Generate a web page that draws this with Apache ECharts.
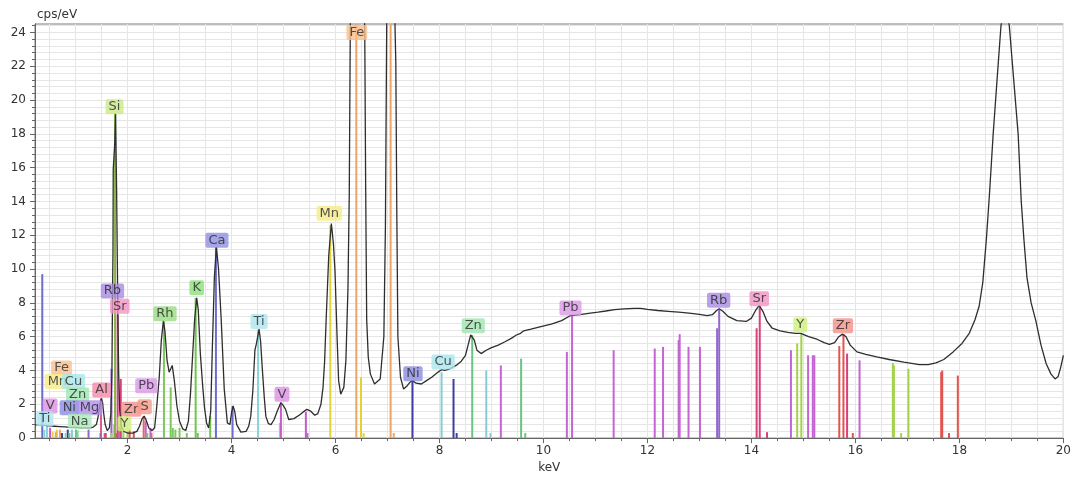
<!DOCTYPE html>
<html>
<head>
<meta charset="utf-8">
<script src="https://cdn.jsdelivr.net/npm/echarts@6/dist/echarts.min.js"></script>
<style>
html, body { margin: 0; padding: 0; background: #fff; }
#chart { width: 1074px; height: 479px; }
</style>
</head>
<body>
<div id="chart"></div>
<script>
// measured spectrum, [keV, cps/eV] (Fe peaks run off the top of the plot)
var spectrum = [
    [0.22,0.80],[0.30,0.77],[0.40,0.75],[0.50,0.72],[0.60,0.70],[0.70,0.68],[0.80,0.66],[0.90,0.64],
    [1.00,0.63],[1.10,0.61],[1.20,0.60],[1.28,0.60],[1.34,0.65],[1.40,0.80],[1.43,1.2],[1.46,1.8],
    [1.48,2.2],[1.50,2.35],[1.52,2.1],[1.54,1.5],[1.57,0.8],[1.61,0.45],[1.65,0.6],[1.68,1.5],
    [1.70,4.0],[1.71,8.0],[1.72,11.0],[1.725,15.9],[1.74,16.0],[1.755,17.5],[1.77,19.2],[1.78,16.8],
    [1.79,14.6],[1.80,11.5],[1.815,7.0],[1.83,3.8],[1.85,1.6],[1.88,0.7],[1.93,0.4],[2.00,0.3],
    [2.10,0.3],[2.18,0.4],[2.23,0.7],[2.28,1.15],[2.32,1.3],[2.36,1.05],[2.41,0.6],[2.47,0.45],
    [2.52,0.6],[2.56,1.8],[2.61,3.6],[2.65,5.8],[2.69,6.95],[2.72,6.3],[2.76,4.6],[2.80,3.9],
    [2.86,4.3],[2.90,3.4],[2.95,1.9],[3.00,1.0],[3.06,0.55],[3.12,0.45],[3.17,1.0],[3.21,2.6],
    [3.25,4.8],[3.29,7.0],[3.33,8.3],[3.36,7.6],[3.40,5.0],[3.44,3.3],[3.48,1.8],[3.52,0.9],
    [3.56,0.6],[3.60,1.6],[3.63,5.2],[3.67,9.5],[3.71,11.3],[3.75,10.0],[3.80,7.1],[3.86,2.9],
    [3.92,0.9],[3.97,0.8],[4.00,1.5],[4.03,1.9],[4.06,1.6],[4.10,0.8],[4.18,0.35],[4.28,0.4],
    [4.33,0.7],[4.37,1.3],[4.41,2.8],[4.45,5.2],[4.48,5.6],[4.53,6.45],[4.56,5.7],[4.59,4.2],
    [4.63,2.4],[4.66,1.3],[4.71,0.85],[4.76,0.8],[4.82,1.1],[4.88,1.6],[4.95,2.1],[4.99,1.95],
    [5.04,1.7],[5.10,1.1],[5.20,1.15],[5.30,1.35],[5.38,1.55],[5.45,1.7],[5.52,1.6],[5.60,1.35],
    [5.66,1.45],[5.72,2.0],[5.76,3.0],[5.79,4.5],[5.82,7.0],[5.87,10.8],[5.92,12.7],[5.96,11.5],
    [5.99,9.9],[6.03,6.0],[6.06,3.4],[6.10,2.6],[6.16,3.0],[6.20,4.6],[6.24,8.9],[6.265,14.5],
    [6.275,19.6],[6.29,27],[6.42,60],[6.555,27],[6.565,22.8],[6.58,15],[6.60,7.0],[6.63,4.8],
    [6.67,3.8],[6.75,3.2],[6.86,3.5],[6.93,6.0],[6.96,12.5],[6.99,27],[7.07,35],[7.16,22.2],
    [7.18,13],[7.20,6.0],[7.25,3.6],[7.31,2.9],[7.38,3.1],[7.43,3.3],[7.48,3.4],[7.55,3.25],
    [7.65,3.2],[7.75,3.4],[7.85,3.6],[7.95,3.85],[8.04,4.05],[8.10,4.0],[8.20,4.1],[8.32,4.3],
    [8.42,4.55],[8.50,4.9],[8.55,5.5],[8.60,6.1],[8.63,6.15],[8.67,5.8],[8.72,5.2],[8.80,5.0],
    [8.90,5.2],[9.00,5.35],[9.13,5.5],[9.26,5.7],[9.38,5.9],[9.48,6.1],[9.56,6.2],[9.62,6.35],
    [9.76,6.45],[9.95,6.6],[10.15,6.75],[10.35,6.95],[10.52,7.25],[10.70,7.3],[10.90,7.4],[11.05,7.45],
    [11.20,7.52],[11.37,7.6],[11.55,7.65],[11.75,7.68],[11.87,7.68],[12.00,7.62],[12.20,7.55],[12.40,7.5],
    [12.60,7.45],[12.80,7.4],[13.00,7.32],[13.15,7.25],[13.25,7.3],[13.33,7.55],[13.38,7.65],[13.45,7.5],
    [13.55,7.2],[13.72,6.95],[13.90,6.9],[14.00,7.1],[14.08,7.55],[14.15,7.85],[14.22,7.5],[14.30,6.9],
    [14.40,6.5],[14.55,6.35],[14.70,6.25],[14.85,6.2],[14.95,6.2],[15.10,6.0],[15.26,5.85],[15.40,5.65],
    [15.50,5.55],[15.60,5.65],[15.68,6.0],[15.75,6.15],[15.82,6.0],[15.90,5.5],[16.03,5.1],[16.20,4.95],
    [16.41,4.8],[16.65,4.65],[16.93,4.5],[17.23,4.35],[17.40,4.35],[17.55,4.45],[17.70,4.65],[17.88,5.1],
    [18.05,5.6],[18.19,6.2],[18.30,7.0],[18.38,7.8],[18.45,9.2],[18.52,11.8],[18.58,14.5],[18.65,18.0],
    [18.72,21.0],[18.80,24.4],[18.88,25.6],[18.96,24.4],[19.05,21.0],[19.13,18.0],[19.19,14.0],[19.24,11.8],
    [19.30,9.5],[19.38,8.0],[19.47,6.95],[19.57,5.5],[19.67,4.4],[19.76,3.8],[19.84,3.5],[19.90,3.65],
    [19.95,4.2],[20.00,4.9]
];

// element marker lines: [keV, height, element]
var elementLines = [
    [0.36,9.7,'Ca'],[3.70,11.3,'Ca'],[4.02,1.9,'Ca'],
    [0.40,0.5,'Ti'],[0.45,0.75,'Ti'],[4.51,6.4,'Ti'],[4.93,0.9,'Ti'],
    [0.51,0.6,'V'],[4.95,2.05,'V'],[5.43,1.55,'V'],[5.46,0.3,'V'],
    [0.56,0.35,'Mn'],[0.64,0.5,'Mn'],[5.90,12.6,'Mn'],[6.49,3.6,'Mn'],[6.54,0.3,'Mn'],
    [0.62,0.35,'Fe'],[0.70,0.5,'Fe'],[6.40,24.5,'Fe'],[7.06,24.5,'Fe'],[7.12,0.3,'Fe'],
    [0.74,0.3,'Ni'],[0.85,0.5,'Ni'],[7.48,3.4,'Ni'],[8.27,3.5,'Ni'],[8.33,0.3,'Ni'],
    [0.81,0.3,'Cu'],[0.93,0.5,'Cu'],[8.04,3.9,'Cu'],[8.90,4.0,'Cu'],[8.98,0.3,'Cu'],
    [0.88,0.3,'Zn'],[1.01,0.5,'Zn'],[8.63,6.1,'Zn'],[9.57,4.7,'Zn'],[9.65,0.3,'Zn'],
    [1.04,0.45,'Na'],
    [1.25,0.5,'Mg'],
    [1.49,2.35,'Al'],[1.56,0.3,'Al'],
    [1.48,0.3,'Rb'],[1.69,4.1,'Rb'],[1.75,0.8,'Rb'],[13.34,6.5,'Rb'],[13.38,7.6,'Rb'],
    [1.76,19.2,'Si'],[1.84,0.7,'Si'],
    [1.58,0.3,'Sr'],[1.81,7.3,'Sr'],[1.87,3.5,'Sr'],[14.10,6.5,'Sr'],[14.16,7.8,'Sr'],[14.30,0.35,'Sr'],[15.84,5.0,'Sr'],
    [1.69,0.3,'Y'],[1.92,0.5,'Y'],[2.00,0.4,'Y'],[14.88,5.6,'Y'],[14.96,6.2,'Y'],[16.72,4.45,'Y'],[16.74,4.3,'Y'],[16.88,0.3,'Y'],[17.02,4.1,'Y'],
    [1.79,0.3,'Zr'],[2.04,0.5,'Zr'],[2.12,0.4,'Zr'],[15.69,5.45,'Zr'],[15.77,6.15,'Zr'],[15.95,0.3,'Zr'],[17.65,3.9,'Zr'],[17.67,4.0,'Zr'],[17.80,0.3,'Zr'],[17.97,3.7,'Zr'],
    [2.31,1.3,'S'],[2.46,0.3,'S'],
    [1.84,0.3,'Pb'],[2.35,1.0,'Pb'],[2.44,0.6,'Pb'],[9.18,4.3,'Pb'],[10.45,5.1,'Pb'],[10.55,7.25,'Pb'],[11.35,5.2,'Pb'],
    [12.14,5.3,'Pb'],[12.30,5.4,'Pb'],[12.60,5.8,'Pb'],[12.62,6.15,'Pb'],[12.79,5.4,'Pb'],[13.01,5.4,'Pb'],
    [14.76,5.2,'Pb'],[15.09,4.9,'Pb'],[15.18,4.9,'Pb'],[15.21,4.9,'Pb'],[16.08,4.6,'Pb'],
    [2.38,0.3,'Rh'],[2.70,6.9,'Rh'],[2.83,3.0,'Rh'],[2.87,0.6,'Rh'],[2.92,0.5,'Rh'],[3.00,0.6,'Rh'],[3.14,0.3,'Rh'],
    [3.31,8.3,'K'],[3.35,0.3,'K'],[3.59,1.3,'K']
];

// element tags: [keV, cps/eV, element]
var peakLabels = [
    [6.41,24.0,'Fe'],[1.75,19.6,'Si'],[5.88,13.3,'Mn'],[3.72,11.7,'Ca'],[1.71,8.7,'Rb'],[1.85,7.8,'Sr'],
    [3.33,8.9,'K'],[2.72,7.35,'Rh'],[4.53,6.9,'Ti'],[4.97,2.6,'V'],[7.49,3.8,'Ni'],[8.07,4.5,'Cu'],
    [8.65,6.65,'Zn'],[10.52,7.7,'Pb'],[13.37,8.15,'Rb'],[14.15,8.25,'Sr'],[14.94,6.7,'Y'],[15.76,6.65,'Zr'],
    [0.73,4.15,'Fe'],[0.65,3.35,'Mn'],[0.96,3.35,'Cu'],[1.04,2.55,'Zn'],[0.51,1.9,'V'],[0.88,1.8,'Ni'],
    [1.27,1.8,'Mg'],[0.41,1.15,'Ti'],[1.08,1.0,'Na'],[1.50,2.85,'Al'],[2.36,3.1,'Pb'],[2.07,1.7,'Zr'],
    [2.33,1.85,'S'],[1.94,0.85,'Y']
];

var xLabelTicks = [2, 4, 6, 8, 10, 12, 14, 16, 18, 20];
var xMinorTicks = [0.5, 1, 1.5, 2, 2.5, 3, 3.5, 4, 4.5, 5, 5.5, 6, 6.5, 7, 7.5, 8, 8.5, 9, 9.5, 10,
    10.5, 11, 11.5, 12, 12.5, 13, 13.5, 14, 14.5, 15, 15.5, 16, 16.5, 17, 17.5, 18, 18.5, 19, 19.5, 20];
var yLabelTicks = [0, 2, 4, 6, 8, 10, 12, 14, 16, 18, 20, 22, 24];
var yMinorTicks = [0, 0.4, 0.8, 1.2, 1.6, 2, 2.4, 2.8, 3.2, 3.6, 4, 4.4, 4.8, 5.2, 5.6, 6, 6.4, 6.8, 7.2, 7.6,
    8, 8.4, 8.8, 9.2, 9.6, 10, 10.4, 10.8, 11.2, 11.6, 12, 12.4, 12.8, 13.2, 13.6, 14, 14.4, 14.8, 15.2, 15.6,
    16, 16.4, 16.8, 17.2, 17.6, 18, 18.4, 18.8, 19.2, 19.6, 20, 20.4, 20.8, 21.2, 21.6, 22, 22.4, 22.8, 23.2, 23.6,
    24, 24.4];

var lineColors = {
    Ca: '#6c6cd0', Ti: '#8ad4dc', V: '#c45ccc', Mn: '#e3d234', Fe: '#eca564', Ni: '#3d3da4',
    Cu: '#84ccd6', Zn: '#68c480', Na: '#84d498', Mg: '#9066d2', Al: '#e2568c', Rb: '#9467d0',
    Si: '#86b440', Sr: '#d8407a', Y: '#a4d24a', Zr: '#e2554f', S: '#e66464', Pb: '#c565d3',
    Rh: '#7cc85a', K: '#6ec748'
};
var tagColors = {
    Ca: '#8e8ee2', Ti: '#aee6ee', V: '#dc90e4', Mn: '#f6ec8a', Fe: '#f8bf8c', Ni: '#8c8ce4',
    Cu: '#a8e6ee', Zn: '#a0e6b0', Na: '#a8eab8', Mg: '#b090ea', Al: '#f48aa8', Rb: '#a98be4',
    Si: '#c9e98a', Sr: '#f294c4', Y: '#d0f07e', Zr: '#f69088', S: '#f89a8c', Pb: '#dc98e8',
    Rh: '#98dc82', K: '#8ce07a'
};

var font = 'DejaVu Sans';
var chart = echarts.init(document.getElementById('chart'));

var option = {
    backgroundColor: '#fff',
    animation: false,
    grid: {
        left: 35, right: 7, top: 24, bottom: 37,
        show: true, borderColor: '#7a7a7a', borderWidth: 1
    },
    xAxis: [
        {
            type: 'value', min: 0.22, max: 20, position: 'bottom',
            name: 'keV', nameLocation: 'middle', nameGap: 23,
            nameTextStyle: { color: '#333', fontSize: 12, fontFamily: font },
            axisLine: { show: true, lineStyle: { color: '#666' } },
            axisTick: { show: true, length: 5, customValues: xLabelTicks, lineStyle: { color: '#666' } },
            axisLabel: { customValues: xLabelTicks, color: '#333', fontSize: 12, fontFamily: font, margin: 7 },
            splitLine: { show: false }
        },
        {
            type: 'value', min: 0.22, max: 20, position: 'bottom',
            axisLine: { show: false },
            axisTick: { show: true, length: 3, customValues: xMinorTicks, lineStyle: { color: '#666' } },
            axisLabel: { show: false },
            splitLine: { show: true, lineStyle: { color: '#e6e6e6', width: 1 } }
        }
    ],
    yAxis: [
        {
            type: 'value', min: 0, max: 24.5,
            name: 'cps/eV', nameLocation: 'end', nameGap: 3,
            nameTextStyle: { color: '#333', fontSize: 12, fontFamily: font, align: 'left', verticalAlign: 'bottom', padding: [0, 0, 0, 2] },
            axisLine: { show: true, lineStyle: { color: '#666' } },
            axisTick: { show: true, length: 5, customValues: yLabelTicks, lineStyle: { color: '#666' } },
            axisLabel: { customValues: yLabelTicks, color: '#333', fontSize: 12, fontFamily: font, margin: 9 },
            splitLine: { show: false }
        },
        {
            type: 'value', min: 0, max: 24.5, position: 'left',
            axisLine: { show: false },
            axisTick: { show: true, length: 3, customValues: yMinorTicks, lineStyle: { color: '#666' } },
            axisLabel: { show: false },
            splitLine: { show: true, lineStyle: { color: '#e6e6e6', width: 1 } }
        }
    ],
    series: [
        {
            type: 'custom',
            name: 'lines',
            xAxisIndex: 0, yAxisIndex: 0,
            z: 2,
            clip: true,
            renderItem: function (params, api) {
                var p0 = api.coord([api.value(0), 0]);
                var p1 = api.coord([api.value(0), api.value(1)]);
                var el = elementLines[params.dataIndex][2];
                return {
                    type: 'line',
                    shape: { x1: p0[0], y1: p0[1], x2: p1[0], y2: p1[1] },
                    style: { stroke: lineColors[el], lineWidth: 2 }
                };
            },
            encode: { x: 0, y: 1 },
            data: elementLines.map(function (d) { return [d[0], d[1]]; })
        },
        {
            type: 'line',
            name: 'spectrum',
            xAxisIndex: 0, yAxisIndex: 0,
            z: 3,
            showSymbol: false,
            clip: true,
            lineStyle: { color: '#2e2e2e', width: 1.3 },
            data: spectrum
        },
        {
            type: 'scatter',
            name: 'tags',
            xAxisIndex: 0, yAxisIndex: 0,
            z: 5,
            symbolSize: 1,
            itemStyle: { color: 'rgba(0,0,0,0)' },
            label: {
                show: true,
                position: 'inside',
                formatter: function (p) { return p.name; },
                color: '#2a2a2a',
                fontSize: 13,
                fontFamily: font,
                lineHeight: 13,
                padding: [1, 3, 1, 3],
                borderRadius: 2
            },
            labelLayout: { hideOverlap: false },
            data: peakLabels.map(function (d) {
                return { name: d[2], value: [d[0], d[1]], label: { backgroundColor: tagColors[d[2]] } };
            })
        }
    ]
};

chart.setOption(option);

window.onresize = function () {
    chart.resize();
};
</script>
</body>
</html>
